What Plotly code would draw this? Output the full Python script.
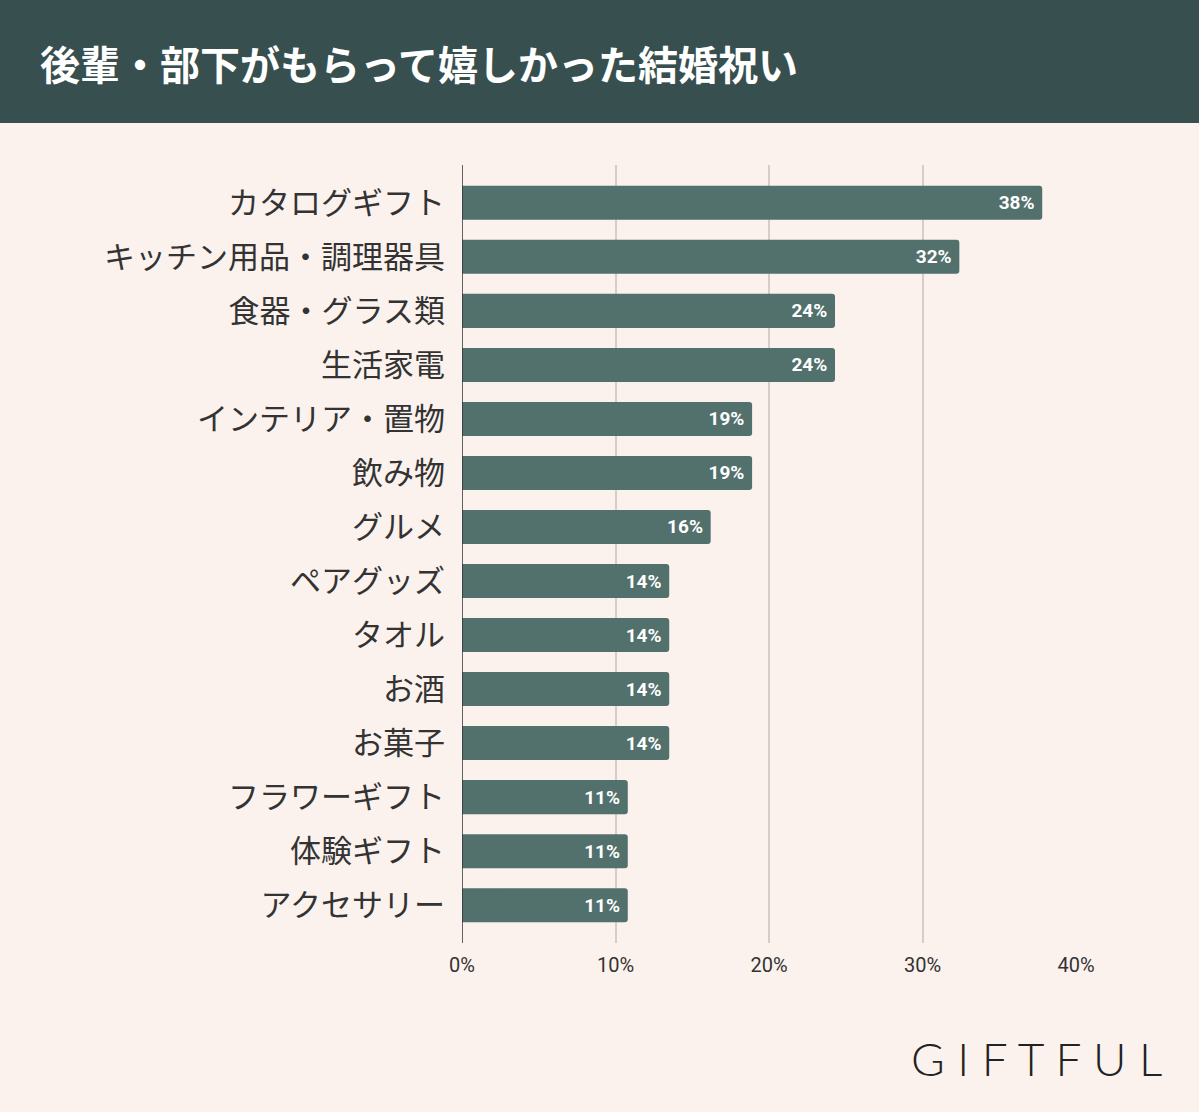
import plotly.graph_objects as go

categories = ["カタログギフト", "キッチン用品・調理器具", "食器・グラス類", "生活家電",
              "インテリア・置物", "飲み物", "グルメ", "ペアグッズ", "タオル", "お酒",
              "お菓子", "フラワーギフト", "体験ギフト", "アクセサリー"]
values = [37.8, 32.4, 24.3, 24.3, 18.9, 18.9, 16.2, 13.5, 13.5, 13.5, 13.5, 10.8, 10.8, 10.8]
bar_labels = ["38%", "32%", "24%", "24%", "19%", "19%", "16%", "14%", "14%", "14%",
              "14%", "11%", "11%", "11%"]
x_ticks = [0, 10, 20, 30, 40]
x_tick_labels = ["0%", "10%", "20%", "30%", "40%"]
title_text = "後輩・部下がもらって嬉しかった結婚祝い"
logo_text = "G I F T F U L"

W, H = 1199, 1112
L, R, T, B = 462, 123, 165, 169
pw, ph = W - L - R, H - T - B

def px_x(p):
    return (p - L) / pw

def px_y(p):
    return (H - B - p) / ph

fig = go.Figure(go.Bar(
    y=categories, x=values, orientation="h",
    marker=dict(color="#52706c", cornerradius=3, line=dict(width=0)),
    text=[t + "\u00a0" for t in bar_labels], textposition="inside", insidetextanchor="end",
    textfont=dict(color="white", size=19, family="Roboto", weight="bold"),
    hoverinfo="skip", width=0.63,
))

fig.update_layout(
    width=W, height=H,
    margin=dict(l=L, r=R, t=T, b=B),
    paper_bgcolor="#fbf2ee", plot_bgcolor="#fbf2ee",
    showlegend=False,
    xaxis=dict(range=[0, 40], tickvals=x_ticks, ticktext=x_tick_labels,
               showgrid=True, gridcolor="#d6ccc8", gridwidth=1.5,
               zeroline=False, showline=False, ticks="", ticklabelstandoff=8,
               tickfont=dict(family="Roboto", size=20, color="#333333"),
               fixedrange=True),
    yaxis=dict(autorange=False, range=[13.7, -0.7], categoryorder="array",
               categoryarray=categories, showgrid=False, zeroline=False,
               showline=False, ticks="", ticklabelstandoff=16,
               tickfont=dict(family="Noto Sans CJK JP", size=31, color="#333333"),
               fixedrange=True),
    uniformtext=dict(mode=False),
    shapes=[
        dict(type="rect", xref="paper", yref="paper",
             x0=px_x(0), x1=px_x(W), y0=px_y(123), y1=px_y(0),
             fillcolor="#37504f", line=dict(width=0), layer="below"),
        dict(type="line", xref="x", yref="paper", x0=0, x1=0, y0=0, y1=1,
             line=dict(color="#333333", width=1.5), layer="above"),
    ],
    annotations=[
        dict(text=title_text, xref="paper", yref="paper", x=px_x(38), y=px_y(63),
             xanchor="left", yanchor="middle", showarrow=False,
             font=dict(family="Noto Sans CJK JP", size=40, color="white", weight="bold")),
        dict(text=logo_text, xref="paper", yref="paper", x=px_x(1164), y=px_y(1058),
             xanchor="right", yanchor="middle", showarrow=False,
             font=dict(family="Lato", size=46, color="#222222", weight=300)),
    ],
)

fig.write_html("out.html", config={"displayModeBar": False})

with open("out.html", "r", encoding="utf-8") as f:
    html = f.read()
html = html.replace("<body>", '<body style="margin:0;background:#fbf2ee;">', 1)
with open("out.html", "w", encoding="utf-8") as f:
    f.write(html)
